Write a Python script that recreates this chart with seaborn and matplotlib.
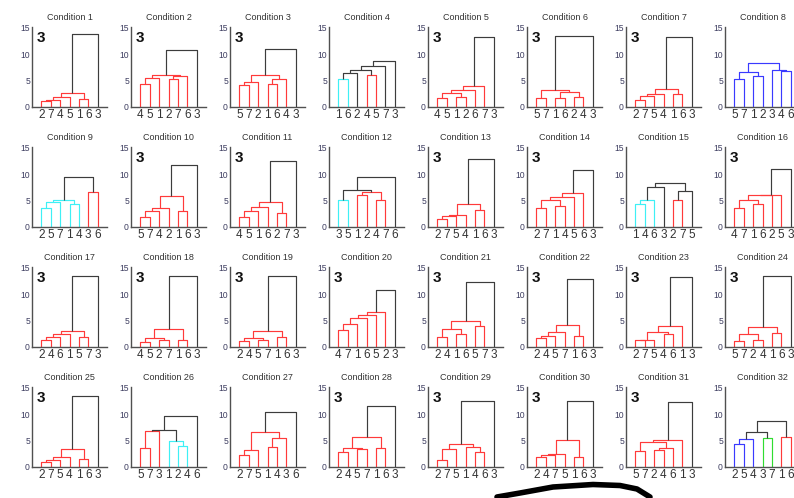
import seaborn as sns
import matplotlib
matplotlib.use('Agg')
import matplotlib.pyplot as plt
from matplotlib.lines import Line2D

# ordem das folhas (eixo x) de cada dendrograma
orders = ["2745163", "4512763", "5721643", "1624573", "4512673", "5716243", "2754163", "5712346",
          "2571436", "5742163", "4516273", "3512476", "2754163", "2714563", "1463275", "4716253",
          "2461573", "4527163", "2457163", "4716523", "2416573", "2457163", "2754613", "5724163",
          "2754163", "5731246", "2751436", "2457163", "2751463", "2475163", "5724613", "2543716"]

# pares unidos: folhas 0-6 pela posicao, nos internos 7..12 na ordem da uniao
pairs = [
    [(0, 1), (7, 2), (8, 3), (4, 5), (9, 10), (11, 6)],
    [(0, 1), (7, 2), (3, 4), (9, 5), (8, 10), (11, 6)],
    [(0, 1), (7, 2), (3, 4), (9, 5), (8, 10), (11, 6)],
    [(0, 1), (7, 2), (3, 4), (8, 9), (10, 5), (11, 6)],
    [(0, 1), (2, 3), (7, 8), (9, 4), (10, 5), (11, 6)],
    [(0, 1), (2, 3), (4, 5), (8, 9), (7, 10), (11, 6)],
    [(0, 1), (7, 2), (8, 3), (4, 5), (9, 10), (11, 6)],
    [(0, 1), (2, 3), (7, 8), (5, 6), (4, 10), (9, 11)],
    [(0, 1), (7, 2), (3, 4), (8, 9), (5, 6), (10, 11)],
    [(0, 1), (7, 2), (8, 3), (4, 5), (9, 10), (11, 6)],
    [(0, 1), (7, 2), (8, 3), (4, 5), (9, 10), (11, 6)],
    [(0, 1), (2, 3), (4, 5), (8, 9), (7, 10), (11, 6)],
    [(0, 1), (7, 2), (8, 3), (4, 5), (9, 10), (11, 6)],
    [(0, 1), (2, 3), (7, 8), (9, 4), (10, 5), (11, 6)],
    [(0, 1), (7, 2), (8, 3), (4, 5), (10, 6), (9, 11)],
    [(0, 1), (2, 3), (7, 8), (9, 4), (10, 5), (11, 6)],
    [(0, 1), (7, 2), (8, 3), (4, 5), (9, 10), (11, 6)],
    [(0, 1), (2, 3), (7, 8), (4, 5), (9, 10), (11, 6)],
    [(0, 1), (2, 3), (7, 8), (4, 5), (9, 10), (11, 6)],
    [(0, 1), (7, 2), (8, 3), (9, 4), (10, 5), (11, 6)],
    [(0, 1), (2, 3), (7, 8), (4, 5), (9, 10), (11, 6)],
    [(0, 1), (7, 2), (8, 3), (4, 5), (9, 10), (11, 6)],
    [(0, 1), (7, 2), (3, 4), (8, 9), (10, 5), (11, 6)],
    [(0, 1), (2, 3), (7, 8), (4, 5), (9, 10), (11, 6)],
    [(0, 1), (7, 2), (8, 3), (4, 5), (9, 10), (11, 6)],
    [(0, 1), (7, 2), (4, 5), (3, 9), (8, 10), (11, 6)],
    [(0, 1), (7, 2), (3, 4), (9, 5), (8, 10), (11, 6)],
    [(0, 1), (2, 3), (7, 8), (4, 5), (9, 10), (11, 6)],
    [(0, 1), (7, 2), (4, 5), (3, 9), (8, 10), (11, 6)],
    [(0, 1), (7, 2), (8, 3), (4, 5), (9, 10), (11, 6)],
    [(0, 1), (2, 3), (8, 4), (7, 9), (10, 5), (11, 6)],
    [(0, 1), (7, 2), (3, 4), (8, 9), (5, 6), (10, 11)],
]

# altura de cada uniao
heights = [
    [1.0, 1.35, 1.85, 1.4, 2.65, 13.8],
    [4.3, 5.45, 5.25, 5.85, 6.0, 10.85],
    [4.1, 4.7, 4.3, 5.3, 6.0, 11.0],
    [5.3, 6.4, 6.0, 7.0, 7.7, 8.6],
    [1.6, 1.9, 2.65, 3.1, 3.9, 13.3],
    [1.6, 1.6, 1.8, 2.8, 3.1, 13.5],
    [1.3, 2.1, 2.4, 2.4, 3.4, 13.3],
    [5.3, 5.8, 6.6, 6.7, 7.0, 8.3],
    [3.6, 4.6, 4.3, 5.1, 6.5, 9.5],
    [1.8, 3.0, 3.6, 2.9, 5.9, 11.8],
    [1.8, 2.9, 3.8, 2.6, 4.6, 12.5],
    [5.0, 6.0, 5.1, 6.6, 6.9, 9.5],
    [1.5, 2.1, 2.3, 3.1, 4.3, 12.9],
    [3.5, 3.9, 5.1, 5.6, 6.4, 10.8],
    [4.3, 5.0, 7.5, 5.1, 6.8, 8.3],
    [3.6, 4.4, 5.0, 6.0, 6.1, 11.0],
    [1.3, 1.8, 2.5, 1.8, 2.9, 13.45],
    [0.9, 1.2, 1.7, 1.3, 3.3, 13.5],
    [1.0, 1.2, 1.7, 1.8, 3.0, 13.5],
    [3.1, 4.4, 5.4, 6.0, 6.5, 10.7],
    [1.8, 2.4, 3.4, 4.0, 4.9, 12.3],
    [1.6, 2.1, 2.7, 2.1, 4.1, 12.9],
    [1.2, 1.3, 2.4, 2.8, 4.0, 13.3],
    [1.0, 1.3, 2.4, 2.6, 3.7, 13.5],
    [0.8, 1.2, 1.8, 1.4, 3.4, 13.5],
    [3.6, 6.8, 4.0, 4.8, 7.0, 9.6],
    [2.2, 3.1, 3.8, 5.5, 6.6, 10.4],
    [2.7, 3.3, 3.5, 3.6, 5.7, 11.6],
    [1.2, 3.3, 2.7, 3.7, 4.3, 12.5],
    [1.9, 2.2, 2.5, 1.9, 5.0, 12.5],
    [3.0, 3.1, 3.6, 4.7, 5.0, 12.2],
    [4.4, 5.2, 5.5, 6.6, 5.7, 8.6],
]

# cor de cada uniao
link_colors = ["rrrrrk", "rrrrrk", "rrrrrk", "ckrkkk", "rrrrrk", "rrrrrk", "rrrrrk", "bbbbbb",
               "ccccrk", "rrrrrk", "rrrrrk", "crrrkk", "rrrrrk", "rrrrrk", "cckrkk", "rrrrrk",
               "rrrrrk", "rrrrrk", "rrrrrk", "rrrrrk", "rrrrrk", "rrrrrk", "rrrrrk", "rrrrrk",
               "rrrrrk", "rrcckk", "rrrrrk", "rrrrrk", "rrrrrk", "rrrrrk", "rrrrrk", "bbgkrk"]

# paineis com o "3" no canto
three_panels = [1, 2, 3, 5, 6, 7, 10, 11, 13, 14, 16, 17, 18, 19, 20, 21, 22, 23, 24, 25, 28, 29, 30, 31]

yticks = [0, 5, 10, 15]

palette = {'r': '#ff3a3a', 'c': '#3ef0f5', 'b': '#3a3aff', 'g': '#30dd30', 'k': '#3c3c3c'}

sns.set_style('ticks')
plt.rcParams['font.family'] = ['Liberation Sans', 'DejaVu Sans']

fig = plt.figure(figsize=(7.94, 4.98), dpi=100)
W, H = 794.0, 498.0

for k in range(32):
    row, col = k // 8, k % 8
    left = (32 + 99 * col) / W
    bottom = (H - 106.7 - 120 * row) / H
    ax = fig.add_axes([left, bottom, 75 / W, 80 / H])

    xs = [float(i + 1) for i in range(7)]
    ys = [0.0] * 7
    for (a, b), h, c in zip(pairs[k], heights[k], link_colors[k]):
        ax.plot([xs[a], xs[a], xs[b], xs[b]], [ys[a], h, h, ys[b]],
                color=palette[c], lw=0.85, solid_capstyle='butt')
        xs.append((xs[a] + xs[b]) / 2)
        ys.append(h)

    ax.set_xlim(0, 8)
    ax.set_ylim(0, 15.2)
    ax.set_xticks(range(1, 8))
    ax.set_xticklabels(list(orders[k]), fontsize=8.5, color='#333333')
    ax.set_yticks(yticks)
    ax.set_yticklabels([str(v) for v in yticks], fontsize=6.2, color='#3d3d60')
    ax.tick_params(axis='both', length=0, pad=1.5)
    ax.tick_params(axis='x', pad=2)
    for s in ['top', 'right']:
        ax.spines[s].set_visible(False)
    for s in ['left', 'bottom']:
        ax.spines[s].set_color('#505050')
        ax.spines[s].set_linewidth(1.0)
    ax.set_title('Condition %d' % (k + 1), fontsize=6.5, color='#333333', pad=5)
    if (k + 1) in three_panels:
        ax.text(0.45, 13.0, '3', fontsize=11, fontweight='bold', color='#111111',
                ha='left', va='center')

# traco preto feito a mao embaixo da figura
px = [497, 520, 553, 593, 620, 637, 650]
py = [497, 493, 487, 484.5, 485.5, 489, 497]
fig.add_artist(Line2D([x / W for x in px], [1 - y / H for y in py], transform=fig.transFigure,
                      color='black', lw=4.0, solid_capstyle='round'))

fig.savefig('out.png', dpi=100)
